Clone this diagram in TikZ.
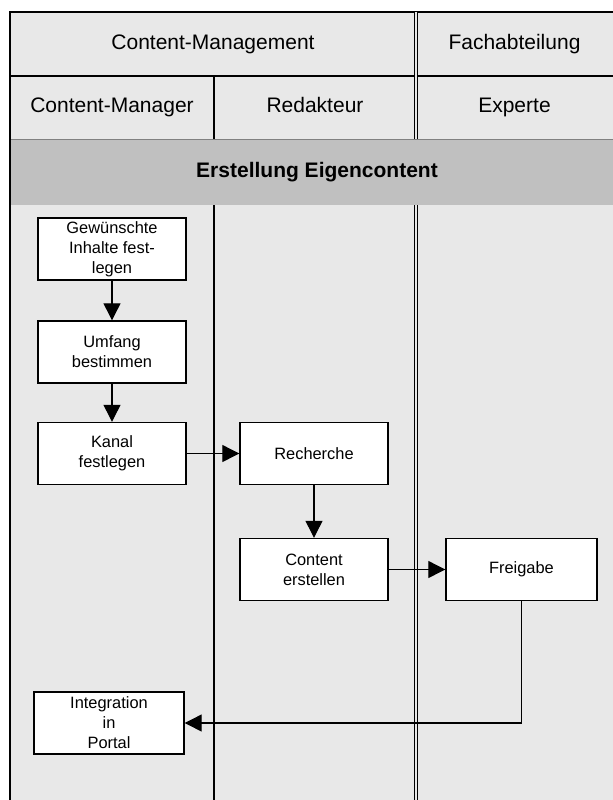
\documentclass[tikz,border=0pt]{standalone}
\usepackage{fontspec}
\setmainfont{Liberation Sans}
\usetikzlibrary{arrows.meta,positioning}

\definecolor{lanegray}{RGB}{232,232,232}
\definecolor{bandgray}{RGB}{192,192,192}

\tikzset{
  task/.style={draw,fill=white,line width=0.7pt,minimum width=74pt,
    minimum height=31pt,inner sep=0pt,align=center,
    font=\fontsize{8.2}{10}\selectfont},
  flow/.style={-{Triangle[width=8.5pt,length=8.5pt]},line width=0.6pt},
  head/.style={font=\fontsize{10.5}{12.6}\selectfont,
    text height=7.6pt,text depth=2.2pt},
  frame/.style={line width=0.7pt},
  sep/.style={line width=0.6pt},
  dsep/.style={line width=0.55pt,double=lanegray,double distance=0.65pt},
}

\begin{document}
\begin{tikzpicture}[x=0.5pt,y=-0.5pt]
      \useasboundingbox (0,0) rectangle (613,800);

      % pools and lanes
      \fill[lanegray] (10,12) rectangle (613,800);
      \fill[bandgray] (10,139) rectangle (613,205);
      \draw[gray,line width=0.4pt] (10,139) -- (613,139);
      \draw[frame] (613,12) -- (10,12) -- (10,800);
      \draw[frame] (10,76) -- (613,76);
      \draw[sep] (214,76) -- (214,139);
      \draw[sep] (214,205) -- (214,800);
      \draw[dsep] (416,12) -- (416,139);
      \draw[dsep] (416,205) -- (416,800);

      \node[head] (pool) at (213,44) {Content-Management};
      \node[head] (fach) at (514.5,44) {Fachabteilung};
      \node[head] (cm) at (112,107.5) {Content-Manager};
      \node[head] (red) at (315,107.5) {Redakteur};
      \node[head] (exp) at (514.5,107.5) {Experte};
      \node[head,font=\bfseries\fontsize{10.5}{12.6}\selectfont] (phase) at (317,172) {Erstellung Eigencontent};

      % tasks
      \coordinate (g) at (112,249);
      \coordinate (u) at (112,352);
      \coordinate (k) at (112,453.5);
      \coordinate (r) at (314,453.5);
      \coordinate (c) at (314,569.5);
      \coordinate (f) at (521.5,569.5);
      \coordinate (i) at (109,723);

      \node[task] (gn) at (g) {Gewünschte\\Inhalte fest-\\legen};
      \node[task] (un) at (u) {Umfang\\bestimmen};
      \node[task] (kn) at (k) {Kanal\\festlegen};
      \node[task] (rn) at (r) {Recherche};
      \node[task] (cn) at (c) {Content\\erstellen};
      \node[task,minimum width=75.5pt] (fn) at (f) {Freigabe};
      \node[task,minimum width=75pt] (in) at (i) {Integration\\in\\Portal};

      \draw[flow] (gn) -- (un);
      \draw[flow] (un) -- (kn);
      \draw[flow] (kn) -- (rn);
      \draw[flow] (rn) -- (cn);
      \draw[flow] (cn) -- (fn);
      \draw[flow] (fn.south) |- (in.east);
\end{tikzpicture}
\end{document}
